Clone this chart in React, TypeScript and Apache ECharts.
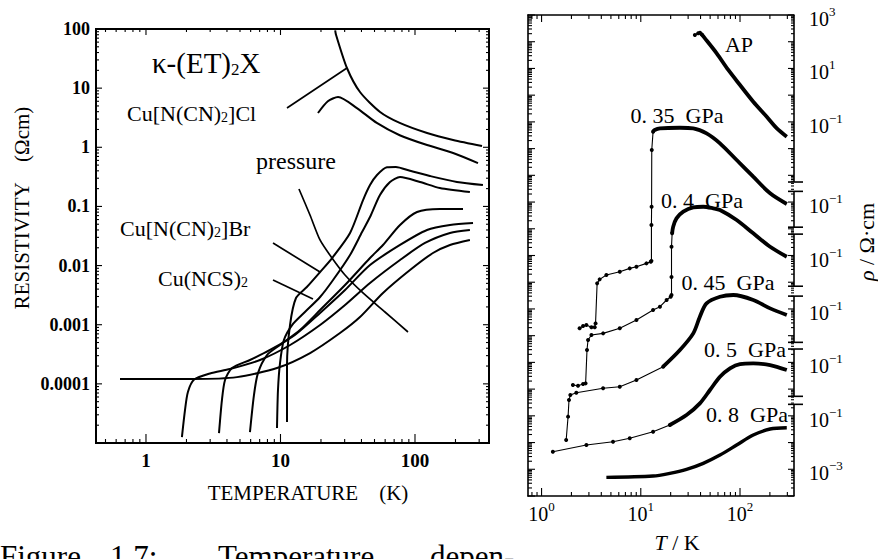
import React, { useEffect, useRef } from "react";
import * as echarts from "echarts";

type Pt = [number, number];

const SERIF = "Liberation Serif, Times New Roman, serif";

/* ---------- left panel: κ-(ET)2X, resistivity (Ω cm) vs temperature (K) ---------- */
const clAmbient: Pt[] = [[25.5, 95], [25.9, 79], [31.2, 21.9], [39, 8.6], [55, 3.95], [77, 2.58], [123, 1.74], [192, 1.33], [315, 1.05]];
const clPressurized: Pt[] = [[19, 3.8], [22.5, 6.0], [26.8, 7.1], [37, 4.6], [52, 2.58], [77, 1.6], [123, 1.09], [192, 0.8], [294, 0.54]];

const metal1: Pt[] = [[11.18, 2.26e-5], [11.18, 2.08e-4], [11.77, 9.88e-4], [13.04, 2.83e-3], [15.7, 4.34e-3], [19.7, 7.78e-3], [24.2, 1.34e-2], [32.9, 3.56e-2], [41.1, 0.128], [46.3, 0.23], [52.2, 0.34], [61.9, 0.46], [72, 0.465], [91.8, 0.4], [129, 0.327], [205, 0.259], [320, 0.23]];
const metal2: Pt[] = [[9.42, 1.79e-5], [9.58, 7.87e-5], [9.92, 2.25e-4], [10.6, 5.51e-4], [12.2, 9.88e-4], [15.2, 1.64e-3], [19.7, 2.94e-3], [24.6, 5.7e-3], [32.9, 1.51e-2], [40.4, 3.69e-2], [46.3, 6.62e-2], [54.9, 0.156], [65.2, 0.259], [77.4, 0.314], [109, 0.259], [153, 0.205], [256, 0.175]];
const metal3: Pt[] = [[5.93, 1.53e-5], [6.35, 6.47e-5], [6.8, 1.52e-4], [7.94, 3.07e-4], [9.92, 4.54e-4], [13.96, 8.13e-4], [19.7, 1.77e-3], [30.2, 4.69e-3], [46.3, 1.34e-2], [57.8, 2.23e-2], [77.4, 4.85e-2], [103.5, 8.05e-2], [153, 9.04e-2], [227.5, 9.04e-2]];
const metal4: Pt[] = [[3.49, 1.47e-5], [3.67, 5.33e-5], [3.87, 1.16e-4], [4.36, 1.85e-4], [5.93, 2.53e-4], [8.36, 3.74e-4], [12.8, 6.7e-4], [19.7, 1.58e-3], [30.2, 3.86e-3], [46.3, 1.02e-2], [77.4, 2.23e-2], [122.8, 3.99e-2], [182, 4.85e-2], [270, 5.25e-2]];
const metal5: Pt[] = [[1.85, 1.26e-5], [1.95, 3.61e-5], [2.05, 7.28e-5], [2.28, 1.18e-4], [2.99, 1.5e-4], [4.21, 1.78e-4], [7.04, 2.53e-4], [11.8, 4.54e-4], [19.7, 9.88e-4], [30.2, 2.15e-3], [46.3, 5.07e-3], [77.4, 1.24e-2], [118.7, 2.41e-2], [182, 3.56e-2], [256, 3.99e-2]];
const metal6: Pt[] = [[0.641, 1.21e-4], [2.24, 1.21e-4], [4.75, 1.3e-4], [9.42, 1.85e-4], [16.6, 3.32e-4], [27.7, 7.24e-4], [39, 1.35e-3], [57.8, 3.44e-3], [91.8, 8.41e-3], [136, 1.63e-2], [182, 2.23e-2], [256, 2.71e-2]];

const pressureArrow: Pt[] = [[13.72, 0.197], [16.57, 0.0716], [19.67, 0.0271], [24.15, 0.0134], [30.17, 0.00692], [41.06, 0.00344], [59.8, 0.00164], [88.7, 0.000753]];
const clLeader: Pt[] = [[11.18, 4.61], [31.2, 21.9]];
const brLeader: Pt[] = [[8.8, 0.0241], [19.67, 0.00778]];
const ncsLeader: Pt[] = [[8.8, 0.0057], [17.44, 0.00272]];

const leftDecadeLabels: Record<string, string> = { "2": "100", "1": "10", "0": "1", "-1": "0.1", "-2": "0.01", "-3": "0.001", "-4": "0.0001" };
const leftTempLabels: Record<string, string> = { "0": "1", "1": "10", "2": "100" };

/* ---------- right panel: ρ (Ω·cm) vs T (K) at several pressures, offset in decades ---------- */
const rhoAmbientHook: Pt[] = [[35.1, 178], [37.9, 206], [39.5, 215], [41.0, 189]];
const rhoAmbient: Pt[] = [[41.0, 189], [44.3, 134], [58.2, 36.8], [76.2, 8.75], [100, 2.4], [136, 0.57], [186, 0.156], [235, 0.0573], [296, 0.028]];

const rho035Steps: Pt[] = [[2.42, 1.88e-6], [2.62, 2.3e-6], [2.83, 2.5e-6], [3.18, 2.05e-6], [3.43, 2.05e-6], [3.5, 2.88e-6], [3.63, 9.06e-5], [3.85, 1.28e-4], [4.5, 1.86e-4], [6.14, 2.48e-4], [7.74, 3.3e-4], [9.04, 3.8e-4], [11.4, 5.08e-4], [12.6, 5.86e-4], [12.8, 6.3e-4], [12.8, 0.0138], [12.85, 0.067], [12.9, 8.9], [13.3, 43]];
const rho035: Pt[] = [[13.3, 43], [13.8, 49.7], [15.6, 57.3], [24.8, 60.3], [33.8, 57.3], [46.0, 37.3], [62.8, 15.8], [92.5, 3.74], [136, 0.889], [201, 0.212], [296, 0.0845]];

const rho040Steps: Pt[] = [[2.07, 1.42e-6], [2.33, 1.34e-6], [2.62, 1.55e-6], [2.78, 1.64e-6], [2.87, 2.9e-5], [2.94, 6.87e-5], [3.18, 1.06e-4], [4.17, 1.22e-4], [6.14, 1.88e-4], [9.04, 3.85e-4], [13.3, 9.12e-4], [15.6, 1.21e-3], [18.2, 2.16e-3], [20.0, 2.86e-3], [20.4, 3.32e-3], [20.4, 0.0158], [20.4, 0.213], [20.7, 0.676]];
const rho040: Pt[] = [[20.7, 0.676], [21.2, 1.2], [22.9, 2.45], [26.8, 4.37], [33.8, 6.34], [42.6, 6.68], [53.8, 5.83], [62.8, 5.04], [92.5, 2.13], [136, 0.676], [201, 0.213], [296, 0.0899]];

const rho045Steps: Pt[] = [[1.77, 1.24e-6], [1.85, 9.33e-6], [1.89, 3.89e-5], [1.95, 6.0e-5], [2.24, 7.33e-5], [4.17, 1.07e-4], [6.14, 1.23e-4], [9.04, 2.19e-4], [16.8, 6.89e-4]];
const rho045: Pt[] = [[16.8, 6.89e-4], [24.8, 2.9e-3], [33.8, 0.0122], [39.4, 0.0512], [46.0, 0.162], [62.8, 0.286], [85.7, 0.332], [136, 0.216], [201, 0.105], [296, 0.0592]];

const rho050Steps: Pt[] = [[1.3, 4.53e-5], [2.83, 8.07e-5], [5.25, 1.07e-4], [7.74, 1.44e-4], [13.3, 2.55e-4], [19.6, 4.53e-4]];
const rho050: Pt[] = [[19.6, 4.53e-4], [28.9, 1.07e-3], [39.4, 2.93e-3], [49.8, 9.25e-3], [62.8, 0.029], [79.3, 0.0598], [100, 0.0869], [136, 0.092], [201, 0.0796], [296, 0.0518]];

const rho080: Pt[] = [[4.5, 4.99e-4], [13.3, 5.58e-4], [19.6, 7.05e-4], [28.9, 9.93e-4], [42.6, 1.67e-3], [62.8, 3.41e-3], [92.5, 8.07e-3], [136, 0.0191], [201, 0.0321], [296, 0.0359]];

// decades each curve is lifted by, and the exponents printed on its piece of the right scale
const decadeShift = { ambient: 12, p035: 9, p040: 7, p045: 5, p050: 3, p080: 1 };
const scalePieces: [number, number[]][] = [
  [decadeShift.ambient, [3, 1, -1]],
  [decadeShift.p035, [-1]],
  [decadeShift.p040, [-1]],
  [decadeShift.p045, [-1]],
  [decadeShift.p050, [-1]],
  [decadeShift.p080, [-1, -3]],
];
// extent of every piece of the broken right-hand scale (plotted decades)
const scaleBreakSpans: [number, number][] = [[15, 8.75], [8.4, 7.06], [6.8, 4.85], [4.48, 2.75], [2.5, 0.73], [0.43, -3]];
const rightTempExponents = [0, 1, 2];

const L_X: [number, number] = [0.425, 355];
const L_Y: [number, number] = [1e-5, 100];
const R_X: [number, number] = [0.73, 350];
const R_Y: [number, number] = [1e-3, 1e15];

const lift = (data: Pt[], decades: number): Pt[] => data.map(([t, r]) => [t, r * Math.pow(10, decades)]);

const decadeOf = (v: number): number | null => {
  const k = Math.log10(v);
  const r = Math.round(k);
  return Math.abs(k - r) < 1e-6 ? r : null;
};
const expText = (e: number) => (e < 0 ? "\u2212" + Math.abs(e) : String(e));

function decadesIn(lo: number, hi: number): number[] {
  const out: number[] = [];
  for (let k = Math.ceil(Math.log10(lo) - 1e-9); k <= Math.floor(Math.log10(hi) + 1e-9); k++) out.push(Math.pow(10, k));
  return out;
}
function minorsIn(lo: number, hi: number): number[] {
  const out: number[] = [];
  for (let k = Math.floor(Math.log10(lo)); k <= Math.ceil(Math.log10(hi)); k++) {
    for (let m = 2; m <= 9; m++) {
      const v = m * Math.pow(10, k);
      if (v > lo * 1.0001 && v < hi * 0.9999) out.push(v);
    }
  }
  return out;
}

// tick marks on all four sides of a frame: [x, y, kind(0 = along x, 1 = along y), lenBottomOrLeft, lenTopOrRight]
function frameTicks(
  axis: number,
  xr: [number, number],
  yr: [number, number],
  len: { xMaj: [number, number]; xMin: [number, number]; yMaj: [number, number]; yMin: [number, number] }
) {
  const items: number[][] = [];
  decadesIn(xr[0], xr[1]).forEach((v) => items.push([v, yr[0], 0, len.xMaj[0], len.xMaj[1]]));
  minorsIn(xr[0], xr[1]).forEach((v) => items.push([v, yr[0], 0, len.xMin[0], len.xMin[1]]));
  decadesIn(yr[0], yr[1]).forEach((v) => items.push([xr[0], v, 1, len.yMaj[0], len.yMaj[1]]));
  minorsIn(yr[0], yr[1]).forEach((v) => items.push([xr[0], v, 1, len.yMin[0], len.yMin[1]]));
  return {
    type: "custom",
    xAxisIndex: axis,
    yAxisIndex: axis,
    silent: true,
    clip: false,
    z: 6,
    encode: { x: 0, y: 1 },
    data: items,
    renderItem: (params: any, api: any) => {
      const cs = params.coordSys;
      const p = api.coord([api.value(0), api.value(1)]);
      const a = api.value(3);
      const b = api.value(4);
      const st = { stroke: "#000", lineWidth: 1.1 };
      if (api.value(2) === 0) {
        return {
          type: "group",
          children: [
            { type: "line", shape: { x1: p[0], y1: cs.y + cs.height, x2: p[0], y2: cs.y + cs.height - a }, style: st },
            { type: "line", shape: { x1: p[0], y1: cs.y, x2: p[0], y2: cs.y + b }, style: st },
          ],
        };
      }
      return {
        type: "group",
        children: [
          { type: "line", shape: { x1: cs.x, y1: p[1], x2: cs.x + a, y2: p[1] }, style: st },
          { type: "line", shape: { x1: cs.x + cs.width, y1: p[1], x2: cs.x + cs.width - b, y2: p[1] }, style: st },
        ],
      };
    },
  };
}

const curve = (data: Pt[], width = 2) => ({
  type: "line",
  xAxisIndex: 0,
  yAxisIndex: 0,
  data,
  symbol: "none",
  smooth: 0.25,
  lineStyle: { color: "#000", width },
  z: 4,
  silent: true,
});

const thick = (data: Pt[], shift: number, width = 3.8) => ({
  type: "line",
  xAxisIndex: 1,
  yAxisIndex: 1,
  data: lift(data, shift),
  symbol: "none",
  smooth: 0.3,
  lineStyle: { color: "#000", width },
  z: 4,
  silent: true,
});

const dotted = (data: Pt[], shift: number) => ({
  type: "line",
  xAxisIndex: 1,
  yAxisIndex: 1,
  data: lift(data, shift),
  symbol: "circle",
  symbolSize: 4,
  showSymbol: true,
  showAllSymbol: true,
  itemStyle: { color: "#000" },
  lineStyle: { color: "#000", width: 1.1 },
  z: 4,
  silent: true,
});

const supRich = { sup: { fontFamily: SERIF, fontSize: 13, lineHeight: 14, verticalAlign: "top", color: "#000" } };

function text(t: string, x: number, y: number, size: number, opts: any = {}) {
  return {
    type: "text",
    x,
    y,
    rotation: opts.rotation || 0,
    silent: true,
    z: 10,
    style: {
      text: t,
      fill: "#000",
      fontFamily: SERIF,
      fontSize: size,
      fontWeight: opts.bold ? "bold" : "normal",
      align: opts.align || "left",
      textAlign: opts.align || "left",
      verticalAlign: "middle",
      textVerticalAlign: "middle",
      rich: opts.rich,
    },
  };
}

function buildOption() {
  const scaleLabelItems: number[][] = [];
  scalePieces.forEach(([shift, exps]) => exps.forEach((e) => scaleLabelItems.push([R_X[1], Math.pow(10, e + shift), e])));

  const subRich = (size: number) => ({ s: { fontFamily: SERIF, fontSize: size, lineHeight: size, verticalAlign: "bottom", color: "#000" } });
  const italicRich = { i: { fontFamily: SERIF, fontSize: 22, fontStyle: "italic", color: "#000" } };

  return {
    animation: false,
    backgroundColor: "#fff",
    grid: [
      { left: 96, top: 29, width: 393, height: 414, show: true, borderColor: "#000", borderWidth: 2, backgroundColor: "transparent" },
      { left: 528, top: 15, width: 266, height: 481 },
    ],
    xAxis: [
      {
        gridIndex: 0,
        type: "log",
        logBase: 10,
        min: L_X[0],
        max: L_X[1],
        axisLine: { show: false },
        axisTick: { show: false },
        splitLine: { show: false },
        axisLabel: {
          color: "#000",
          fontFamily: SERIF,
          fontSize: 19,
          fontWeight: "bold",
          margin: 8,
          formatter: (v: number) => {
            const k = decadeOf(v);
            return k === null ? "" : leftTempLabels[String(k)] ?? "";
          },
        },
      },
      {
        gridIndex: 1,
        type: "log",
        logBase: 10,
        position: "bottom",
        min: R_X[0],
        max: R_X[1],
        axisLine: { show: true, onZero: false, lineStyle: { color: "#000", width: 1.6 } },
        axisTick: { show: false },
        splitLine: { show: false },
        axisLabel: {
          color: "#000",
          fontFamily: SERIF,
          fontSize: 20,
          lineHeight: 28,
          margin: 4,
          rich: supRich,
          formatter: (v: number) => {
            const k = decadeOf(v);
            return k === null || !rightTempExponents.includes(k) ? "" : `10{sup|${expText(k)}}`;
          },
        },
      },
      {
        gridIndex: 1,
        type: "log",
        logBase: 10,
        position: "top",
        min: R_X[0],
        max: R_X[1],
        axisLine: { show: true, onZero: false, lineStyle: { color: "#000", width: 1.6 } },
        axisTick: { show: false },
        axisLabel: { show: false },
        splitLine: { show: false },
      },
    ],
    yAxis: [
      {
        gridIndex: 0,
        type: "log",
        logBase: 10,
        min: L_Y[0],
        max: L_Y[1],
        axisLine: { show: false },
        axisTick: { show: false },
        splitLine: { show: false },
        axisLabel: {
          color: "#000",
          fontFamily: SERIF,
          fontSize: 18,
          fontWeight: "bold",
          margin: 6,
          formatter: (v: number) => {
            const k = decadeOf(v);
            return k === null ? "" : leftDecadeLabels[String(k)] ?? "";
          },
        },
      },
      {
        gridIndex: 1,
        type: "log",
        logBase: 10,
        min: R_Y[0],
        max: R_Y[1],
        axisLine: { show: true, onZero: false, lineStyle: { color: "#000", width: 1.6 } },
        axisTick: { show: false },
        axisLabel: { show: false },
        splitLine: { show: false },
      },
    ],
    series: [
      curve(clAmbient),
      curve(clPressurized),
      curve(metal1),
      curve(metal2),
      curve(metal3),
      curve(metal4),
      curve(metal5),
      curve(metal6),
      curve(pressureArrow, 1.7),
      curve(clLeader, 1.7),
      curve(brLeader, 1.7),
      curve(ncsLeader, 1.7),
      frameTicks(0, L_X, L_Y, { xMaj: [9, 6], xMin: [4, 3], yMaj: [6, 6], yMin: [3, 3] }),

      dotted(rhoAmbientHook, decadeShift.ambient),
      thick(rhoAmbient, decadeShift.ambient),
      dotted(rho035Steps, decadeShift.p035),
      thick(rho035, decadeShift.p035),
      dotted(rho040Steps, decadeShift.p040),
      thick(rho040, decadeShift.p040),
      dotted(rho045Steps, decadeShift.p045),
      thick(rho045, decadeShift.p045),
      dotted(rho050Steps, decadeShift.p050),
      thick(rho050, decadeShift.p050),
      thick(rho080, decadeShift.p080, 3.4),
      frameTicks(1, R_X, R_Y, { xMaj: [8, 7], xMin: [4, 4], yMaj: [7, 6], yMin: [4, 3] }),
      {
        // broken right-hand scale: one axis segment per curve, capped at the breaks
        type: "custom",
        xAxisIndex: 1,
        yAxisIndex: 1,
        silent: true,
        clip: false,
        z: 6,
        encode: { x: 0, y: 1 },
        data: scaleBreakSpans.map(([a, b]) => [10, Math.pow(10, a), Math.pow(10, b), a >= 15 ? 0 : 1, b <= -3 ? 0 : 1]),
        renderItem: (params: any, api: any) => {
          const cs = params.coordSys;
          const x = cs.x + cs.width;
          const y1 = api.coord([api.value(0), api.value(1)])[1];
          const y2 = api.coord([api.value(0), api.value(2)])[1];
          const st = { stroke: "#000", lineWidth: 1.6 };
          const children: any[] = [{ type: "line", shape: { x1: x, y1, x2: x, y2 }, style: st }];
          if (api.value(3)) children.push({ type: "line", shape: { x1: x - 6, y1, x2: x + 9, y2: y1 }, style: st });
          if (api.value(4)) children.push({ type: "line", shape: { x1: x - 6, y1: y2, x2: x + 9, y2 }, style: st });
          return { type: "group", children };
        },
      },
      {
        type: "custom",
        xAxisIndex: 1,
        yAxisIndex: 1,
        silent: true,
        clip: false,
        z: 6,
        encode: { x: 0, y: 1 },
        data: scaleLabelItems,
        renderItem: (params: any, api: any) => {
          const cs = params.coordSys;
          const p = api.coord([api.value(0), api.value(1)]);
          return {
            type: "text",
            x: cs.x + cs.width + 15,
            y: p[1] + 4,
            style: {
              text: `10{sup|${expText(api.value(2))}}`,
              fill: "#000",
              fontFamily: SERIF,
              fontSize: 20,
              lineHeight: 28,
              align: "left",
              verticalAlign: "middle",
              rich: supRich,
            },
          };
        },
      },
    ],
    graphic: [
      text("κ-(ET){s|2}X", 152, 63, 29, { rich: subRich(17) }),
      text("Cu[N(CN){s|2}]Cl", 127, 113, 22, { rich: subRich(14) }),
      text("pressure", 256, 161, 24),
      text("Cu[N(CN){s|2}]Br", 120, 228, 22, { rich: subRich(14) }),
      text("Cu(NCS){s|2}", 158, 278, 22, { rich: subRich(14) }),
      text("RESISTIVITY    (Ωcm)", 22, 208, 21, { align: "center", rotation: Math.PI / 2 }),
      text("TEMPERATURE    (K)", 308, 493, 21, { align: "center" }),

      text("AP", 739, 44, 22, { align: "center" }),
      text("0. 35  GPa", 677, 115, 22, { align: "center" }),
      text("0. 4  GPa", 702, 200, 22, { align: "center" }),
      text("0. 45  GPa", 728, 282, 22, { align: "center" }),
      text("0. 5  GPa", 745, 349, 22, { align: "center" }),
      text("0. 8  GPa", 747, 414, 22, { align: "center" }),
      text("{i|T} / K", 677, 542, 22, { align: "center", rich: italicRich }),
      text("{i|ρ} / Ω·cm", 866, 242, 22, { align: "center", rotation: Math.PI / 2, rich: italicRich }),

      text("Figure", 0, 556, 31),
      text("1.7:", 110, 556, 31),
      text("Temperature", 218, 556, 31),
      text("depen-", 430, 556, 31),
    ],
  };
}

export default function App() {
  const ref = useRef<HTMLDivElement>(null);
  useEffect(() => {
    if (!ref.current) return;
    const chart = echarts.init(ref.current, undefined, { renderer: "svg" });
    chart.setOption(buildOption() as any);
    return () => chart.dispose();
  }, []);
  return (
    <div
      ref={ref}
      style={{ position: "fixed", left: 0, top: 0, width: 878, height: 559, background: "#fff", overflow: "hidden" }}
    />
  );
}
